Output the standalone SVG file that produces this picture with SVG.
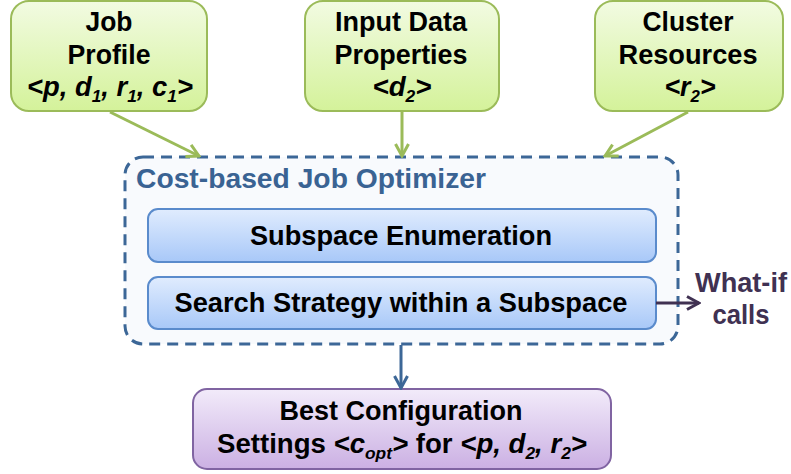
<svg xmlns="http://www.w3.org/2000/svg" width="791" height="474" viewBox="0 0 791 474">
  <defs>
    <linearGradient id="gGreen" x1="0" y1="0" x2="0" y2="1">
      <stop offset="0" stop-color="#f2fbe2"/>
      <stop offset="1" stop-color="#d4f29a"/>
    </linearGradient>
    <linearGradient id="gBlue" x1="0" y1="0" x2="0" y2="1">
      <stop offset="0" stop-color="#e0ecfe"/>
      <stop offset="1" stop-color="#a8c8f8"/>
    </linearGradient>
    <linearGradient id="gPurple" x1="0" y1="0" x2="0" y2="1">
      <stop offset="0" stop-color="#f2ebfa"/>
      <stop offset="1" stop-color="#cbb0e3"/>
    </linearGradient>
    <marker id="headGreen" viewBox="0 0 16 16" refX="14" refY="8" markerWidth="16" markerHeight="16" markerUnits="userSpaceOnUse" orient="auto">
      <path d="M2,1.5 L14,8 L2,14.5" fill="none" stroke="#9bbb59" stroke-width="3"/>
    </marker>
    <marker id="headBlue" viewBox="0 0 16 16" refX="14" refY="8" markerWidth="16" markerHeight="16" markerUnits="userSpaceOnUse" orient="auto">
      <path d="M2,1.5 L14,8 L2,14.5" fill="none" stroke="#3c6797" stroke-width="3"/>
    </marker>
    <marker id="headPurple" viewBox="0 0 16 16" refX="14" refY="8" markerWidth="16" markerHeight="16" markerUnits="userSpaceOnUse" orient="auto">
      <path d="M2,1.5 L14,8 L2,14.5" fill="none" stroke="#403152" stroke-width="3"/>
    </marker>
  </defs>
  <style>
    text { font-family: "Liberation Sans", Arial, sans-serif; font-weight: bold; font-size: 27px; fill: #000; text-anchor: middle; }
    .it { font-style: italic; }
    .sub { font-size: 17px; }
    .input { fill: url(#gGreen); stroke: #9bbb59; stroke-width: 2; }
    .step { fill: url(#gBlue); stroke: #5a8bcc; stroke-width: 2; }
    .result { fill: url(#gPurple); stroke: #8064a2; stroke-width: 2; }
    .frame { fill: #f8fafd; stroke: #3c6797; stroke-width: 3; stroke-dasharray: 11 7; }
    .title { fill: #3a6393; text-anchor: start; }
    .note { fill: #403152; }
    .edge { fill: none; stroke-width: 3; }
  </style>

  <!-- optimizer frame -->
  <g id="optimizer">
    <rect class="frame" x="125" y="157" width="553" height="187" rx="18"/>
    <text class="title" x="136" y="188" textLength="350" lengthAdjust="spacingAndGlyphs">Cost-based Job Optimizer</text>
  </g>

  <g id="subspace-enumeration">
    <rect class="step" x="148" y="209" width="508" height="53" rx="10"/>
    <text x="401" y="245" textLength="302" lengthAdjust="spacingAndGlyphs">Subspace Enumeration</text>
  </g>

  <g id="search-strategy">
    <rect class="step" x="148" y="277" width="508" height="52" rx="10"/>
    <text x="401" y="312" textLength="453" lengthAdjust="spacingAndGlyphs">Search Strategy within a Subspace</text>
  </g>

  <!-- inputs -->
  <g id="job-profile">
    <rect class="input" x="11" y="1" width="196" height="110" rx="18"/>
    <text x="109" y="31" textLength="47" lengthAdjust="spacingAndGlyphs">Job</text>
    <text x="109" y="64" textLength="83" lengthAdjust="spacingAndGlyphs">Profile</text>
    <text class="it" x="110" y="96" textLength="166" lengthAdjust="spacingAndGlyphs">&lt;p, d<tspan class="sub" dy="6">1</tspan><tspan dy="-6">, r</tspan><tspan class="sub" dy="6">1</tspan><tspan dy="-6">, c</tspan><tspan class="sub" dy="6">1</tspan><tspan dy="-6">&gt;</tspan></text>
  </g>

  <g id="input-data">
    <rect class="input" x="305" y="1" width="194" height="110" rx="18"/>
    <text x="401" y="31" textLength="132" lengthAdjust="spacingAndGlyphs">Input Data</text>
    <text x="401" y="64" textLength="133" lengthAdjust="spacingAndGlyphs">Properties</text>
    <text class="it" x="402" y="96" textLength="59" lengthAdjust="spacingAndGlyphs">&lt;d<tspan class="sub" dy="6">2</tspan><tspan dy="-6">&gt;</tspan></text>
  </g>

  <g id="cluster-resources">
    <rect class="input" x="595" y="1" width="188" height="110" rx="18"/>
    <text x="688" y="31" textLength="91" lengthAdjust="spacingAndGlyphs">Cluster</text>
    <text x="688" y="64" textLength="139" lengthAdjust="spacingAndGlyphs">Resources</text>
    <text class="it" x="690" y="96" textLength="51" lengthAdjust="spacingAndGlyphs">&lt;r<tspan class="sub" dy="6">2</tspan><tspan dy="-6">&gt;</tspan></text>
  </g>

  <!-- output -->
  <g id="best-configuration">
    <rect class="result" x="193" y="389" width="418" height="80" rx="14"/>
    <text x="401" y="420" textLength="243" lengthAdjust="spacingAndGlyphs">Best Configuration</text>
    <text x="402" y="453" textLength="370" lengthAdjust="spacingAndGlyphs">Settings <tspan class="it">&lt;c</tspan><tspan class="it sub" dy="6">opt</tspan><tspan class="it" dy="-6">&gt;</tspan> for <tspan class="it">&lt;p, d</tspan><tspan class="it sub" dy="6">2</tspan><tspan class="it" dy="-6">, r</tspan><tspan class="it sub" dy="6">2</tspan><tspan class="it" dy="-6">&gt;</tspan></text>
  </g>

  <g id="what-if">
    <text class="note" x="741" y="292" textLength="92" lengthAdjust="spacingAndGlyphs">What-if</text>
    <text class="note" x="741" y="324" textLength="57" lengthAdjust="spacingAndGlyphs">calls</text>
  </g>

  <!-- connectors -->
  <g id="connectors">
    <line class="edge" x1="110" y1="112" x2="199" y2="156" stroke="#9bbb59" marker-end="url(#headGreen)"/>
    <line class="edge" x1="402" y1="112" x2="402" y2="156" stroke="#9bbb59" marker-end="url(#headGreen)"/>
    <line class="edge" x1="688" y1="112" x2="605" y2="156" stroke="#9bbb59" marker-end="url(#headGreen)"/>
    <line class="edge" x1="401" y1="345" x2="401" y2="388" stroke="#3c6797" marker-end="url(#headBlue)"/>
    <line class="edge" x1="656" y1="303" x2="699" y2="303" stroke="#403152" marker-end="url(#headPurple)"/>
  </g>
</svg>
